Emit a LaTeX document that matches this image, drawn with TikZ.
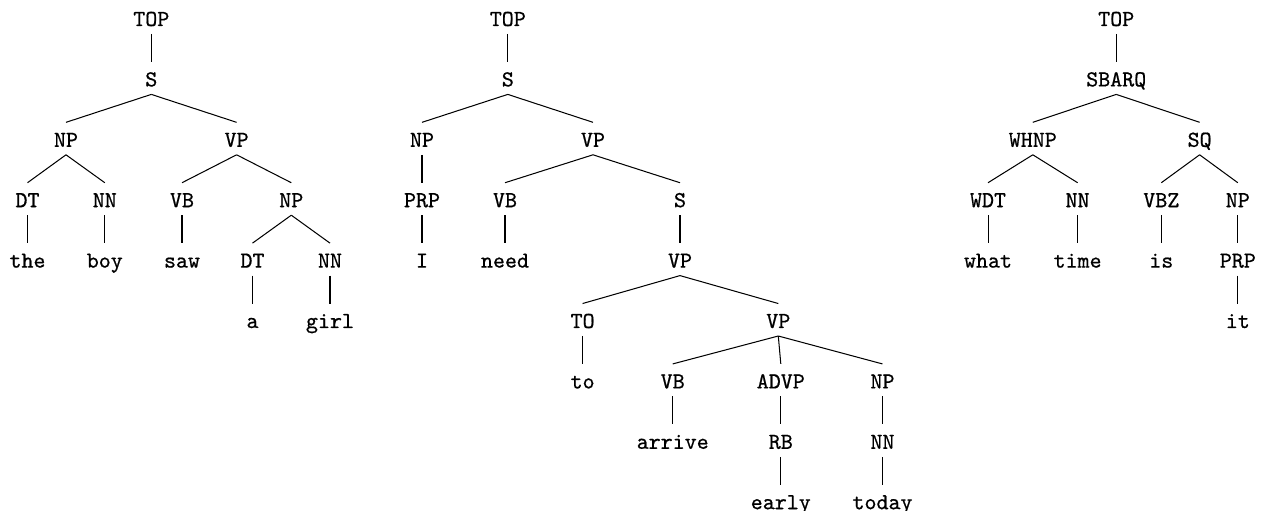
\documentclass[tikz,border=0pt]{standalone}
\usepackage{fontspec}
\newfontfamily\treefont{lmmono10-regular.otf}[FakeBold=0.7]
\begin{document}
\begin{tikzpicture}[x=0.4374pt,y=-0.4374pt,
  lbl/.style={anchor=base, inner sep=0pt, text height=10.5pt, text depth=3.3pt,
    font=\fontsize{10pt}{12pt}\treefont},
  branch/.style={line width=0.45pt, black}]
\useasboundingbox (0,0) rectangle (1266,511);
% Tree 1
\node[lbl] (a0) at (151.3,26) {TOP};
\node[lbl] (a1) at (151.3,86.4) {S};
\node[lbl] (a2) at (66,146.8) {NP};
\node[lbl] (a3) at (236.6,146.8) {VP};
\node[lbl] (a4) at (27.5,207.2) {DT};
\node[lbl] (a5) at (104.8,207.2) {NN};
\node[lbl] (a6) at (182,207.2) {VB};
\node[lbl] (a7) at (291.3,207.2) {NP};
\node[lbl] (a8) at (27.5,267.6) {the};
\node[lbl] (a9) at (104.8,267.6) {boy};
\node[lbl] (a10) at (182,267.6) {saw};
\node[lbl] (a11) at (252.5,267.6) {DT};
\node[lbl] (a12) at (330,267.6) {NN};
\node[lbl] (a13) at (252.5,328) {a};
\node[lbl] (a14) at (330,328) {girl};
% Tree 2
\node[lbl] (b0) at (507.8,26) {TOP};
\node[lbl] (b1) at (507.8,86.4) {S};
\node[lbl] (b2) at (422,146.8) {NP};
\node[lbl] (b3) at (593,146.8) {VP};
\node[lbl] (b4) at (422,207.2) {PRP};
\node[lbl] (b5) at (505,207.2) {VB};
\node[lbl] (b6) at (680,207.2) {S};
\node[lbl] (b7) at (422,267.6) {I};
\node[lbl] (b8) at (505,267.6) {need};
\node[lbl] (b9) at (680,267.6) {VP};
\node[lbl] (b10) at (582.6,328) {TO};
\node[lbl] (b11) at (778.3,328) {VP};
\node[lbl] (b12) at (582.6,388.4) {to};
\node[lbl] (b13) at (672.7,388.4) {VB};
\node[lbl] (b14) at (780.8,388.4) {ADVP};
\node[lbl] (b15) at (882.5,388.4) {NP};
\node[lbl] (b16) at (672.7,448.8) {arrive};
\node[lbl] (b17) at (780.8,448.8) {RB};
\node[lbl] (b18) at (882.5,448.8) {NN};
\node[lbl] (b19) at (780.8,509.2) {early};
\node[lbl] (b20) at (882.5,509.2) {today};
% Tree 3
\node[lbl] (c0) at (1116.2,26) {TOP};
\node[lbl] (c1) at (1116.2,86.4) {SBARQ};
\node[lbl] (c2) at (1032.8,146.8) {WHNP};
\node[lbl] (c3) at (1199.6,146.8) {SQ};
\node[lbl] (c4) at (988,207.2) {WDT};
\node[lbl] (c5) at (1077.6,207.2) {NN};
\node[lbl] (c6) at (1161.3,207.2) {VBZ};
\node[lbl] (c7) at (1237.8,207.2) {NP};
\node[lbl] (c8) at (988,267.6) {what};
\node[lbl] (c9) at (1077.6,267.6) {time};
\node[lbl] (c10) at (1161.3,267.6) {is};
\node[lbl] (c11) at (1237.8,267.6) {PRP};
\node[lbl] (c12) at (1237.8,328) {it};
% Branches
\foreach \p/\c in {a0/a1,a1/a2,a1/a3,a2/a4,a2/a5,a3/a6,a3/a7,a4/a8,a5/a9,a6/a10,a7/a11,a7/a12,a11/a13,a12/a14,
  b0/b1,b1/b2,b1/b3,b2/b4,b3/b5,b3/b6,b4/b7,b5/b8,b6/b9,b9/b10,b9/b11,b10/b12,b11/b13,b11/b14,b11/b15,b13/b16,b14/b17,b15/b18,b17/b19,b18/b20,
  c0/c1,c1/c2,c1/c3,c2/c4,c2/c5,c3/c6,c3/c7,c4/c8,c5/c9,c6/c10,c7/c11,c11/c12}
  \draw[branch] (\p.south) -- (\c.north);
\end{tikzpicture}
\end{document}
